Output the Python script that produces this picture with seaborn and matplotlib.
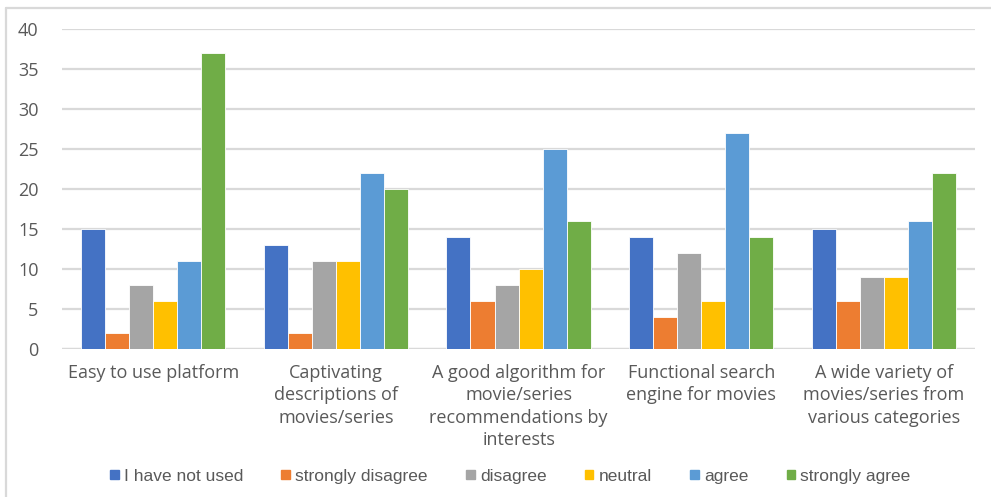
import matplotlib
matplotlib.use("Agg")
import matplotlib.pyplot as plt
import matplotlib.patches as mpatches
import matplotlib.lines as mlines
import pandas as pd
import seaborn as sns

categories = [
    "Easy to use platform",
    "Captivating\ndescriptions of\nmovies/series",
    "A good algorithm for\nmovie/series\nrecommendations by\ninterests",
    "Functional search\nengine for movies",
    "A wide variety of\nmovies/series from\nvarious categories",
]
responses = ["I have not used", "strongly disagree", "disagree", "neutral", "agree", "strongly agree"]
not_used = [15, 13, 14, 14, 15]
strongly_disagree = [2, 2, 6, 4, 6]
disagree = [8, 11, 8, 12, 9]
neutral = [6, 11, 10, 6, 9]
agree = [11, 22, 25, 27, 16]
strongly_agree = [37, 20, 16, 14, 22]
colors = ["#4472C4", "#ED7D31", "#A5A5A5", "#FFC000", "#5B9BD5", "#70AD47"]
y_ticks = [0, 5, 10, 15, 20, 25, 30, 35, 40]

series = [not_used, strongly_disagree, disagree, neutral, agree, strongly_agree]
rows = []
for resp, vals in zip(responses, series):
    for cat, v in zip(categories, vals):
        rows.append({"category": cat, "response": resp, "count": v})
df = pd.DataFrame(rows)

sns.set_theme(style="white")
plt.rcParams["font.family"] = ["Open Sans", "DejaVu Sans"]

fig = plt.figure(figsize=(9.91, 4.97), dpi=100)
ax = fig.add_axes([0.0626, 0.2978, 0.9214, 0.6438])

sns.barplot(data=df, x="category", y="count", hue="response",
            order=categories, hue_order=responses, palette=colors,
            saturation=1, width=0.79, edgecolor="white", linewidth=0.6,
            errorbar=None, legend=False, ax=ax, zorder=3)

ax.set_ylim(0, 40)
ax.set_yticks(y_ticks)
ax.set_xlim(-0.5, len(categories) - 0.5)
ax.yaxis.grid(True, color="#D9D9D9", linewidth=1.6, zorder=0)
ax.set_axisbelow(True)
for s in ax.spines.values():
    s.set_visible(False)
ax.set_xlabel("")
ax.set_ylabel("")
ax.tick_params(axis="both", length=0, colors="#595959")
ax.tick_params(axis="y", labelsize=13, pad=17)
ax.tick_params(axis="x", labelsize=13, pad=11)
for lbl in ax.get_xticklabels():
    lbl.set_linespacing(1.3)
    lbl.set_verticalalignment("top")
ax.axhline(0, color="#D9D9D9", linewidth=1.6, zorder=1)

# chart frame (left and top edges)
fig.add_artist(mlines.Line2D([0.006, 0.006], [0, 0.984], transform=fig.transFigure,
                             color="#D9D9D9", linewidth=1.6))
fig.add_artist(mlines.Line2D([0.006, 1.0], [0.984, 0.984], transform=fig.transFigure,
                             color="#D9D9D9", linewidth=1.6))

handles = [mpatches.Patch(color=c, label=r) for c, r in zip(colors, responses)]
fig.legend(handles=handles, loc="center", bbox_to_anchor=(0.515, 0.042), ncol=6,
           frameon=False, handlelength=0.5, handleheight=0.5, handletextpad=0.3,
           columnspacing=2.2,
           prop={"family": ["Liberation Sans", "DejaVu Sans"], "size": 12.5},
           labelcolor="#595959")

fig.savefig("out.png", dpi=100)
